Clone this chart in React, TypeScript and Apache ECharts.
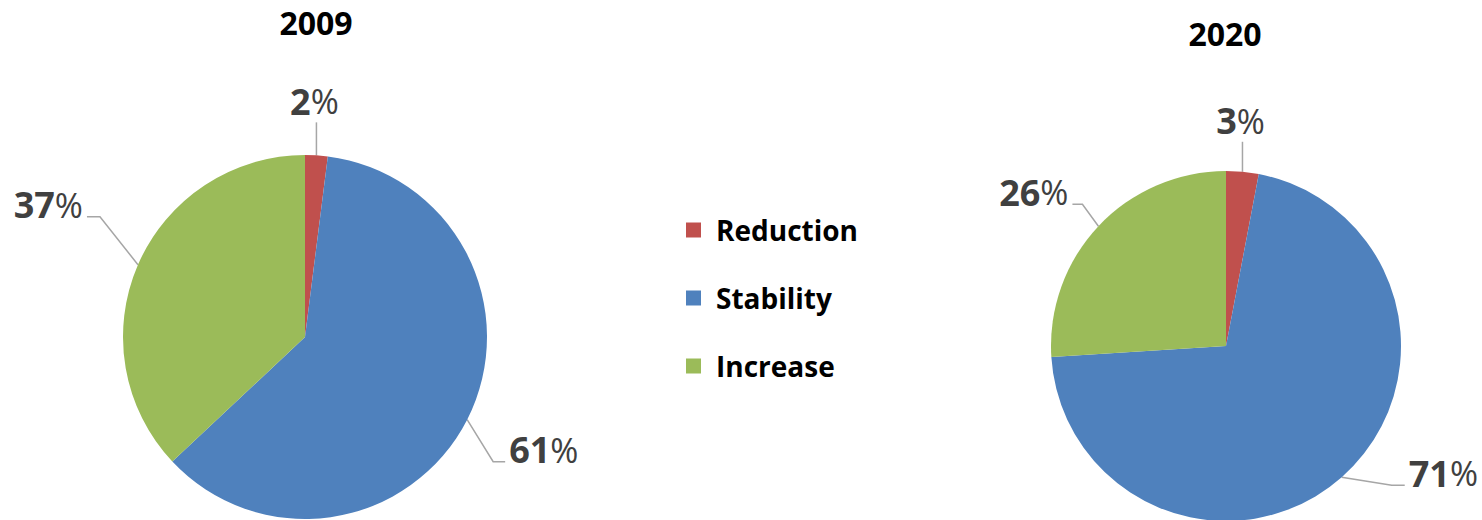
import { useEffect, useRef } from 'react';
import * as echarts from 'echarts';

const categories = ['Reduction', 'Stability', 'Increase'];
const values2009 = [2, 61, 37];
const values2020 = [3, 71, 26];
const years = ['2009', '2020'];
const colors = ['#C0504D', '#4F81BD', '#9BBB59'];

// label line offsets per series / slice: [dx, dy, horizontal]
const lineOffsets = [
  [[0, -33, 0], [26, 42, 12], [-38, -48, -13]],
  [[0, -30, 0], [50, 8, 13], [-16, -22, -10]],
];

const FONT = '"Open Sans", "Noto Sans", sans-serif';

export default function App() {
  const ref = useRef<HTMLDivElement>(null);
  useEffect(() => {
    if (!ref.current) return;
    const chart = echarts.init(ref.current, undefined, { renderer: 'svg' });
    const makeSeries = (name: string, vals: number[], center: number[], radius: number) => ({
      type: 'pie',
      name,
      center,
      radius,
      startAngle: 90,
      clockwise: true,
      avoidLabelOverlap: false,
      itemStyle: { borderWidth: 0 },
      label: {
        show: true,
        position: 'outside',
        formatter: (p: any) => `{b|${p.value}}{p|%}`,
        rich: {
          b: { fontFamily: FONT, fontWeight: 'bold', fontSize: 36, color: '#404040' },
          p: { fontFamily: FONT, fontWeight: 'normal', fontSize: 34, color: '#404040' },
        },
      },
      labelLine: { show: true, length: 20, length2: 10, lineStyle: { color: '#A6A6A6', width: 1.5 } },
      labelLayout: (params: any) => {
        const pts = params.labelLinePoints;
        if (!pts) return {};
        const off = lineOffsets[params.seriesIndex][params.dataIndex];
        const p0 = pts[0];
        const p1 = [p0[0] + off[0], p0[1] + off[1]];
        const p2 = [p1[0] + off[2], p1[1]];
        if (off[2] === 0) {
          return {
            x: p2[0] - 2,
            y: p2[1] - 21,
            align: 'center',
            verticalAlign: 'middle',
            labelLinePoints: [p0, p1, p2],
          };
        }
        const left = off[2] < 0;
        return {
          x: p2[0] + (left ? -4 : 4),
          y: p2[1] - 12,
          align: left ? 'right' : 'left',
          verticalAlign: 'middle',
          labelLinePoints: [p0, p1, p2],
        };
      },
      data: categories.map((c, i) => ({ name: c, value: vals[i], itemStyle: { color: colors[i] } })),
    });

    chart.setOption({
      animation: false,
      color: colors,
      legend: {
        orient: 'vertical',
        left: 681,
        top: 210,
        icon: 'rect',
        itemWidth: 15,
        itemHeight: 15,
        itemGap: 38,
        selectedMode: true,
        data: categories,
        textStyle: {
          fontFamily: FONT,
          fontWeight: 'bold',
          fontSize: 28,
          lineHeight: 30,
          color: '#000',
          padding: [0, 0, 0, 10],
        },
      },
      graphic: [
        {
          type: 'text',
          x: 316,
          y: 22,
          style: { text: years[0], align: 'center', verticalAlign: 'middle', fontFamily: FONT, fontWeight: 'bold', fontSize: 32, fill: '#000' },
        },
        {
          type: 'text',
          x: 1225,
          y: 33,
          style: { text: years[1], align: 'center', verticalAlign: 'middle', fontFamily: FONT, fontWeight: 'bold', fontSize: 32, fill: '#000' },
        },
      ],
      series: [
        makeSeries(years[0], values2009, [305, 337], 182),
        makeSeries(years[1], values2020, [1226, 346], 175),
      ],
    });
    return () => chart.dispose();
  }, []);
  return <div ref={ref} style={{ position: 'fixed', left: 0, top: 0, width: 1482, height: 520, background: '#fff' }} />;
}
